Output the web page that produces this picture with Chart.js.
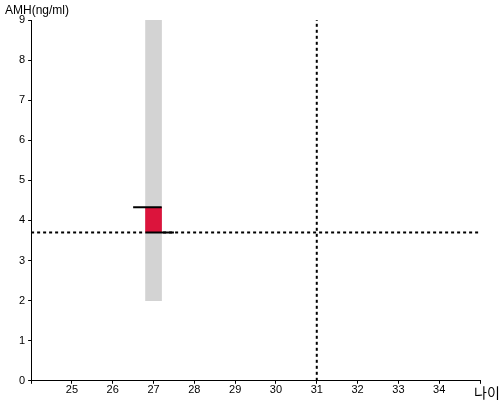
<!DOCTYPE html>
<html>
<head>
<meta charset="utf-8">
<script src="https://cdn.jsdelivr.net/npm/chart.js@4"></script>
<style>
  html, body { margin: 0; padding: 0; background: #fff; }
  #wrap { width: 500px; height: 400px; }
</style>
</head>
<body>
<div id="wrap"><canvas id="amhChart"></canvas></div>
<script>
// 데이터
const age = 27;
const normalRange = [2, 9];        // 회색 막대 (정상 범위)
const amhRange = [3.7, 4.33];      // 빨간 막대
const upperLineX = [26.5, 27.2];
const lowerLineX = [26.8, 27.5];
const refAmh = 3.7;                // 가로 점선
const refAge = 31;                 // 세로 점선
const xRange = [24, 35];
const yRange = [0, 9];

// 축 제목 그리기
const axisTitles = {
    id: 'axisTitles',
    afterDraw(chart) {
        const ctx = chart.ctx;
        ctx.save();
        ctx.fillStyle = '#000';
        ctx.font = '12px "Liberation Sans", Arial, sans-serif';
        ctx.textBaseline = 'middle';
        ctx.textAlign = 'left';
        ctx.fillText('AMH(ng/ml)', 5, 11);
        ctx.font = '14px "Noto Sans CJK KR", sans-serif';
        ctx.fillText('나이', 474, 393);
        ctx.restore();
    }
};

const chart = new Chart(document.getElementById('amhChart'), {
    type: 'bar',
    data: {
        datasets: [
            {
                type: 'line',
                data: [{x: refAge, y: yRange[0]}, {x: refAge, y: yRange[1]}],
                borderColor: '#000',
                borderWidth: 2,
                borderDash: [3, 3],
                pointRadius: 0,
                order: 5
            },
            {
                type: 'line',
                data: [{x: xRange[0], y: refAmh}, {x: xRange[1], y: refAmh}],
                borderColor: '#000',
                borderWidth: 2,
                borderDash: [3, 3],
                pointRadius: 0,
                order: 4
            },
            {
                data: [{x: age, y: normalRange}],
                backgroundColor: '#d3d3d3',
                barThickness: 16,
                grouped: false,
                order: 3
            },
            {
                data: [{x: age, y: amhRange}],
                backgroundColor: '#dc143c',
                barThickness: 16,
                grouped: false,
                order: 2
            },
            {
                type: 'line',
                data: upperLineX.map(x => ({x: x, y: amhRange[1]})),
                borderColor: '#000',
                borderWidth: 2,
                pointRadius: 0,
                order: 1
            },
            {
                type: 'line',
                data: lowerLineX.map(x => ({x: x, y: amhRange[0]})),
                borderColor: '#000',
                borderWidth: 2,
                pointRadius: 0,
                order: 1
            }
        ]
    },
    options: {
        responsive: true,
        maintainAspectRatio: false,
        animation: false,
        layout: { padding: { top: 20, right: 20, left: 16, bottom: 3 } },
        plugins: {
            legend: { display: false },
            tooltip: { enabled: false }
        },
        scales: {
            x: {
                type: 'linear',
                offset: false,
                min: xRange[0],
                max: xRange[1],
                ticks: {
                    stepSize: 1,
                    padding: 0,
                    color: '#000',
                    font: { family: '"Liberation Sans", Arial', size: 11 },
                    callback: v => (v === xRange[0] || v === xRange[1]) ? '' : v
                },
                grid: { offset: false, drawOnChartArea: false, color: '#000', tickLength: 3 },
                border: { color: '#000', width: 1 }
            },
            y: {
                min: yRange[0],
                max: yRange[1],
                ticks: {
                    stepSize: 1,
                    color: '#000',
                    font: { family: '"Liberation Sans", Arial', size: 11 }
                },
                grid: { drawOnChartArea: false, color: '#000', tickLength: 3 },
                border: { color: '#000', width: 1 }
            }
        }
    },
    plugins: [axisTitles]
});
</script>
</body>
</html>
